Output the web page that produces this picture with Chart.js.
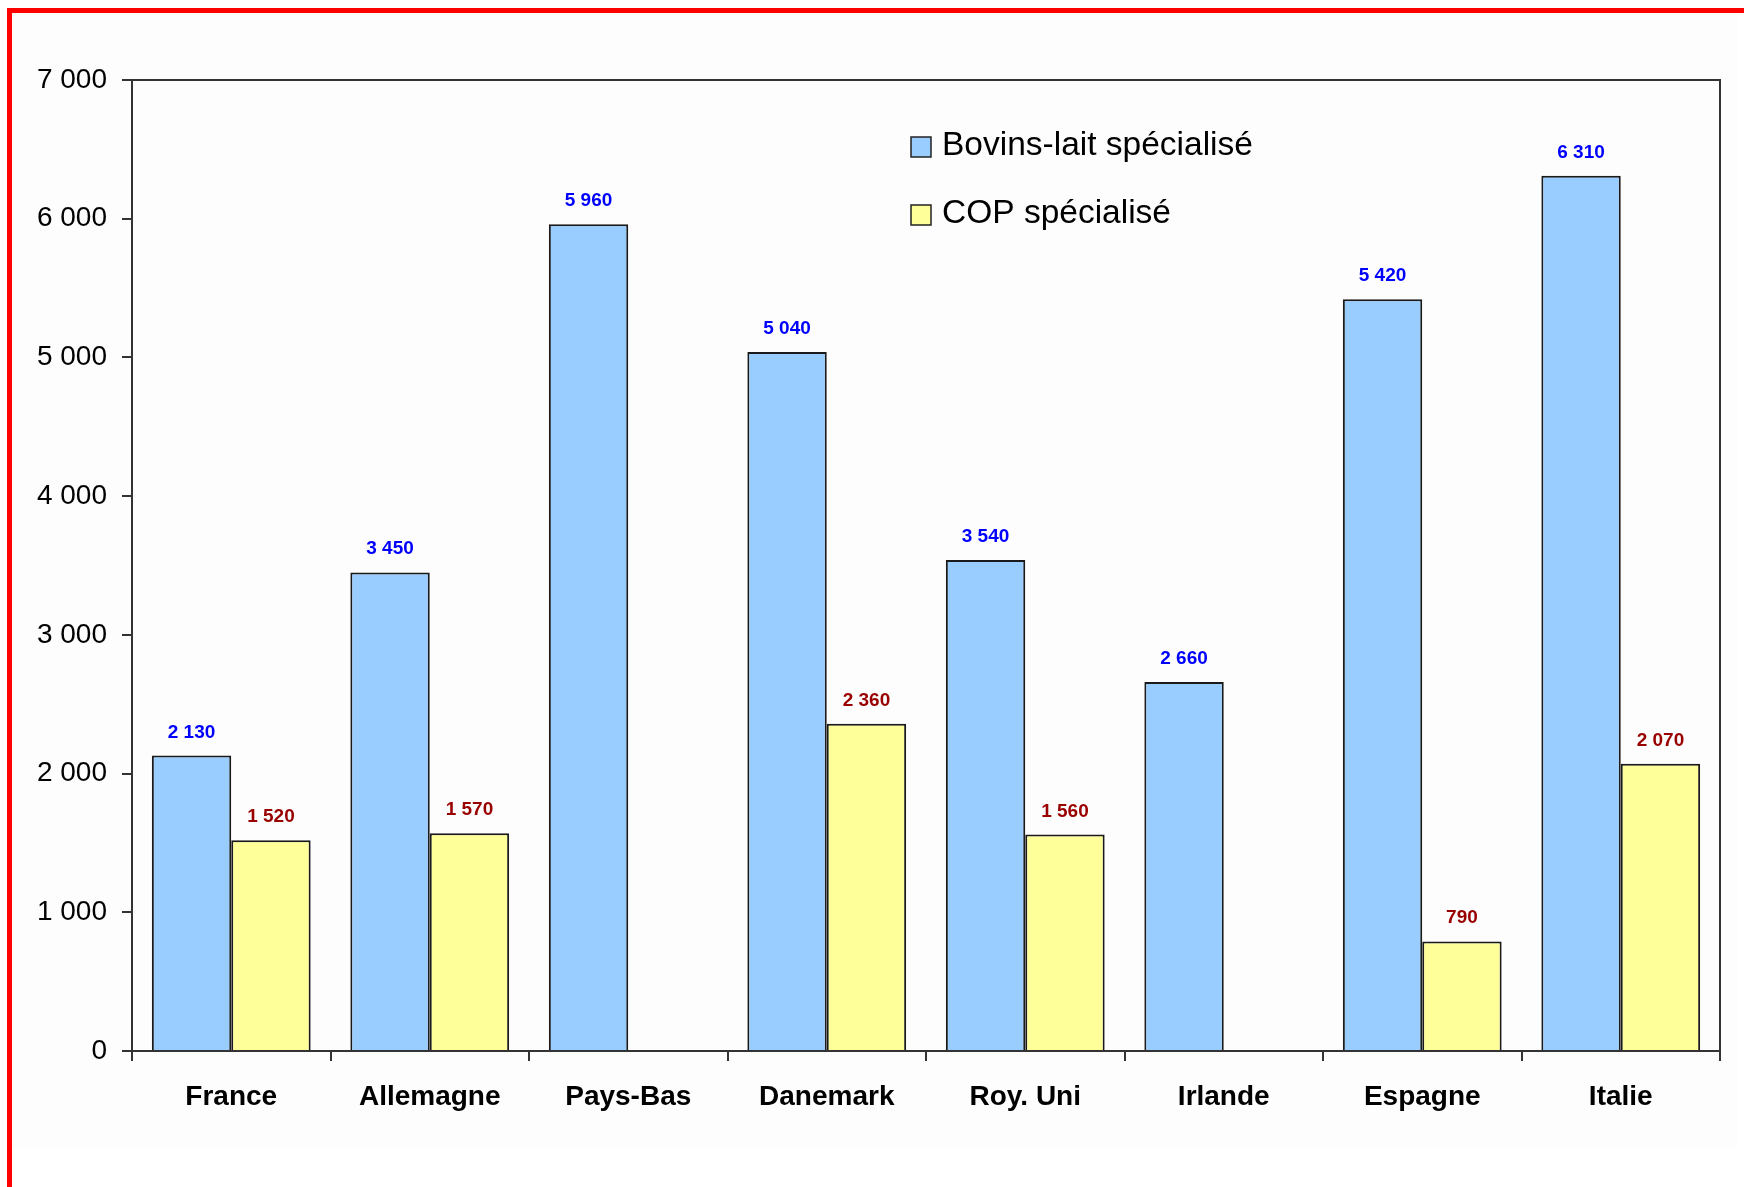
<!DOCTYPE html>
<html>
<head>
<meta charset="utf-8">
<script src="https://cdn.jsdelivr.net/npm/chart.js@4.4.0/dist/chart.umd.min.js"></script>
<style>
  body { margin: 0; background: #fff; }
  #panel { position: absolute; left: 12px; top: 13px; width: 1726px; height: 1134px; background: #fdfdfd; }
  #frame { position: absolute; left: 7px; top: 8px; width: 1737px; height: 1179px; border-left: 5px solid #f00; border-top: 5px solid #f00; box-sizing: border-box; }
  #wrap { position: absolute; left: 0; top: 0; width: 1744px; height: 1187px; }
</style>
</head>
<body>
<div id="panel"></div>
<div id="frame"></div>
<div id="wrap"><canvas id="chart"></canvas></div>
<script>
const countries = ['France', 'Allemagne', 'Pays-Bas', 'Danemark', 'Roy. Uni', 'Irlande', 'Espagne', 'Italie'];
const bovinsLait = [2130, 3450, 5960, 5040, 3540, 2660, 5420, 6310];
const copSpecialise = [1520, 1570, null, 2360, 1560, null, 790, 2070];
const yMin = 0, yMax = 7000, yStep = 1000;

const FONT = '"Liberation Sans", Arial, sans-serif';

// "7000" -> "7 000"
function fmt(v) {
    return String(v).replace(/\B(?=(\d{3})+(?!\d))/g, ' ');
}

// frame around the plot (top and right sides too)
const boxPlugin = {
    id: 'box',
    afterDraw(chart) {
        const { ctx, chartArea: a } = chart;
        ctx.save();
        ctx.strokeStyle = '#333';
        ctx.lineWidth = 2;
        ctx.strokeRect(a.left, a.top, a.right - a.left, a.bottom - a.top);
        ctx.restore();
    }
};

// value labels above bars
const valueLabels = {
    id: 'valueLabels',
    afterDatasetsDraw(chart) {
        const ctx = chart.ctx;
        ctx.save();
        ctx.font = 'bold 19px ' + FONT;
        ctx.textAlign = 'center';
        ctx.textBaseline = 'alphabetic';
        chart.data.datasets.forEach((ds, i) => {
            ctx.fillStyle = ds.labelColor;
            chart.getDatasetMeta(i).data.forEach((bar, j) => {
                if (ds.data[j] == null) return;
                ctx.fillText(fmt(ds.data[j]), bar.x, bar.y - 18);
            });
        });
        ctx.restore();
    }
};

// legend inside the plot area
const insideLegend = {
    id: 'insideLegend',
    afterDraw(chart) {
        const { ctx, chartArea: a } = chart;
        ctx.save();
        ctx.font = '33.5px ' + FONT;
        ctx.textBaseline = 'alphabetic';
        chart.data.datasets.forEach((ds, i) => {
            const x = a.left + 779;
            const y = a.top + 57 + i * 68;
            ctx.fillStyle = ds.backgroundColor;
            ctx.fillRect(x, y, 20, 20);
            ctx.strokeStyle = '#222';
            ctx.lineWidth = 1.5;
            ctx.strokeRect(x, y, 20, 20);
            ctx.fillStyle = '#000';
            ctx.fillText(ds.label, x + 31, y + 18);
        });
        ctx.restore();
    }
};

new Chart(document.getElementById('chart'), {
    type: 'bar',
    data: {
        labels: countries,
        datasets: [
            {
                label: 'Bovins-lait spécialisé',
                data: bovinsLait,
                backgroundColor: '#99ccff',
                borderColor: '#1a1a1a',
                borderWidth: 2,
                labelColor: '#0000ff'
            },
            {
                label: 'COP spécialisé',
                data: copSpecialise,
                backgroundColor: '#ffff99',
                borderColor: '#1a1a1a',
                borderWidth: 2,
                labelColor: '#990000'
            }
        ]
    },
    options: {
        responsive: true,
        maintainAspectRatio: false,
        animation: false,
        layout: { padding: { left: 10, top: 80, right: 24, bottom: 0 } },
        datasets: { bar: { barPercentage: 1, categoryPercentage: 0.8 } },
        scales: {
            x: {
                afterFit: s => { s.height = 136; },
                grid: { display: true, drawOnChartArea: false, tickLength: 10, color: '#333', lineWidth: 2, offset: true },
                border: { color: '#333', width: 2 },
                ticks: { color: '#000', padding: 19, font: { family: FONT, size: 28, weight: 'bold' } }
            },
            y: {
                min: yMin,
                max: yMax,
                afterFit: s => { s.width = 122; },
                grid: { display: true, drawOnChartArea: false, tickLength: 10, color: '#333', lineWidth: 2 },
                border: { color: '#333', width: 2 },
                ticks: {
                    stepSize: yStep,
                    color: '#000',
                    padding: 15,
                    font: { family: FONT, size: 28 },
                    callback: v => fmt(v)
                }
            }
        },
        plugins: {
            legend: { display: false },
            tooltip: { enabled: false }
        }
    },
    plugins: [boxPlugin, valueLabels, insideLegend]
});
</script>
</body>
</html>
